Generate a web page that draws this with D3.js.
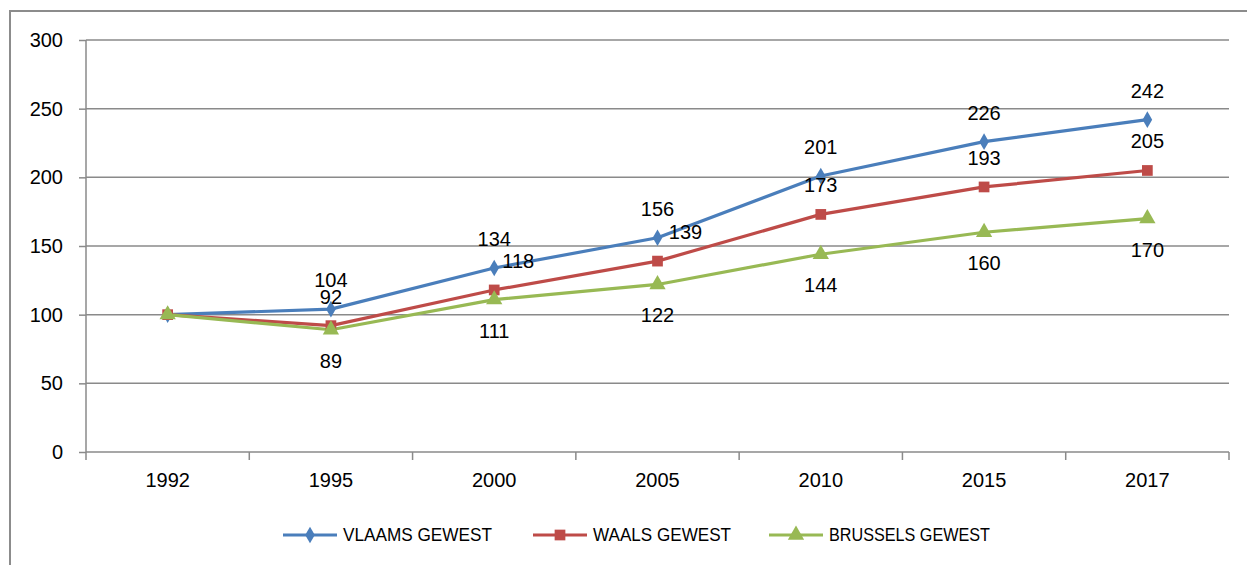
<!DOCTYPE html>
<html><head><meta charset="utf-8">
<script src="https://cdn.jsdelivr.net/npm/d3@7"></script>
<style>body{margin:0;background:#fff}svg{display:block}text{font-family:"Liberation Sans",Arial,sans-serif}</style>
</head><body><svg id="c" width="1247" height="565"></svg>
<script>
const years = ["1992","1995","2000","2005","2010","2015","2017"];
const vlaams = [100,104,134,156,201,226,242];
const waals = [100,92,118,139,173,193,205];
const brussels = [100,89,111,122,144,160,170];
const yTicks = [0,50,100,150,200,250,300];
const seriesNames = ["VLAAMS GEWEST","WAALS GEWEST","BRUSSELS GEWEST"];

const svg = d3.select("#c");
const m = {l:86, r:1229, t:40, b:452};
const x = d3.scaleBand().domain(years).range([m.l,m.r]);
const y = d3.scaleLinear().domain([0,300]).range([m.b,m.t]);
const cx = d => x(d)+x.bandwidth()/2;
const grid = "#8a8a8a";
const fs = 20;

svg.append("rect").attr("x",10).attr("y",11).attr("width",1260).attr("height",600)
  .attr("fill","none").attr("stroke","#8c8c8c").attr("stroke-width",2);

svg.append("g").selectAll("line").data(yTicks.filter(t=>t>0)).join("line")
  .attr("x1",m.l).attr("x2",m.r).attr("y1",d=>y(d)).attr("y2",d=>y(d))
  .attr("stroke",grid).attr("stroke-width",1.5);

const ya = svg.append("g").attr("transform",`translate(${m.l},0)`)
  .call(d3.axisLeft(y).tickValues(yTicks).tickSize(7).tickPadding(16));
ya.select(".domain").attr("stroke",grid).attr("stroke-width",1.5).attr("d",`M-0,${m.t}V${m.b}`);
ya.selectAll(".tick line").attr("stroke",grid).attr("stroke-width",1.5);
ya.selectAll(".tick text").attr("font-size",fs).attr("fill","#000");

const xa = svg.append("g").attr("transform",`translate(0,${m.b})`)
  .call(d3.axisBottom(x).tickSize(0).tickPadding(21));
xa.select(".domain").attr("stroke",grid).attr("stroke-width",1.5).attr("d",`M${m.l},0H${m.r}`);
xa.selectAll(".tick text").attr("font-size",fs).attr("fill","#000");
const bounds = d3.range(years.length+1).map(i=>m.l+i*x.bandwidth());
svg.append("g").selectAll("line").data(bounds).join("line")
  .attr("x1",d=>d).attr("x2",d=>d).attr("y1",m.b).attr("y2",m.b+8)
  .attr("stroke",grid).attr("stroke-width",1.5);

const colors = ["#4A7EBB","#BE4B48","#98B954"];
const data = [vlaams,waals,brussels];
const shapes = [d3.symbolDiamond, d3.symbolSquare, d3.symbolTriangle];
const sizes = [80,115,115];
const line = d3.line().x((d,i)=>cx(years[i])).y(d=>y(d));

data.forEach((s,k)=>{
  svg.append("path").datum(s).attr("d",line).attr("fill","none")
    .attr("stroke",colors[k]).attr("stroke-width",3.2).attr("stroke-linejoin","round");
});
data.forEach((s,k)=>{
  svg.append("g").selectAll("path").data(s).join("path")
    .attr("transform",(d,i)=>`translate(${cx(years[i])},${y(d)})`)
    .attr("d",d3.symbol().type(shapes[k]).size(sizes[k])).attr("fill",colors[k]);
});

const labelDy = [-29,-29,31];
const waalsDx = [0,0,24,28,0,0,0];
const labelDx = [years.map(()=>0), waalsDx, years.map(()=>0)];
data.forEach((s,k)=>{
  svg.append("g").selectAll("text").data(s.slice(1)).join("text")
    .attr("x",(d,i)=>cx(years[i+1])+labelDx[k][i+1])
    .attr("y",d=>y(d)+labelDy[k]).attr("dy","0.35em")
    .attr("text-anchor","middle").attr("font-size",fs).attr("fill","#000").text(d=>d);
});

const legX = [283,533,769];
const legW = [149,138,161];
seriesNames.forEach((n,k)=>{
  const g = svg.append("g").attr("transform",`translate(${legX[k]},535)`);
  g.append("line").attr("x1",0).attr("x2",54).attr("stroke",colors[k]).attr("stroke-width",3.2);
  g.append("path").attr("transform","translate(27,0)").attr("d",d3.symbol().type(shapes[k]).size(sizes[k])).attr("fill",colors[k]);
  g.append("text").attr("x",60).attr("dy","0.36em").attr("font-size",18)
    .attr("textLength",legW[k]).attr("lengthAdjust","spacingAndGlyphs")
    .attr("fill","#000").text(n);
});
</script></body></html>
